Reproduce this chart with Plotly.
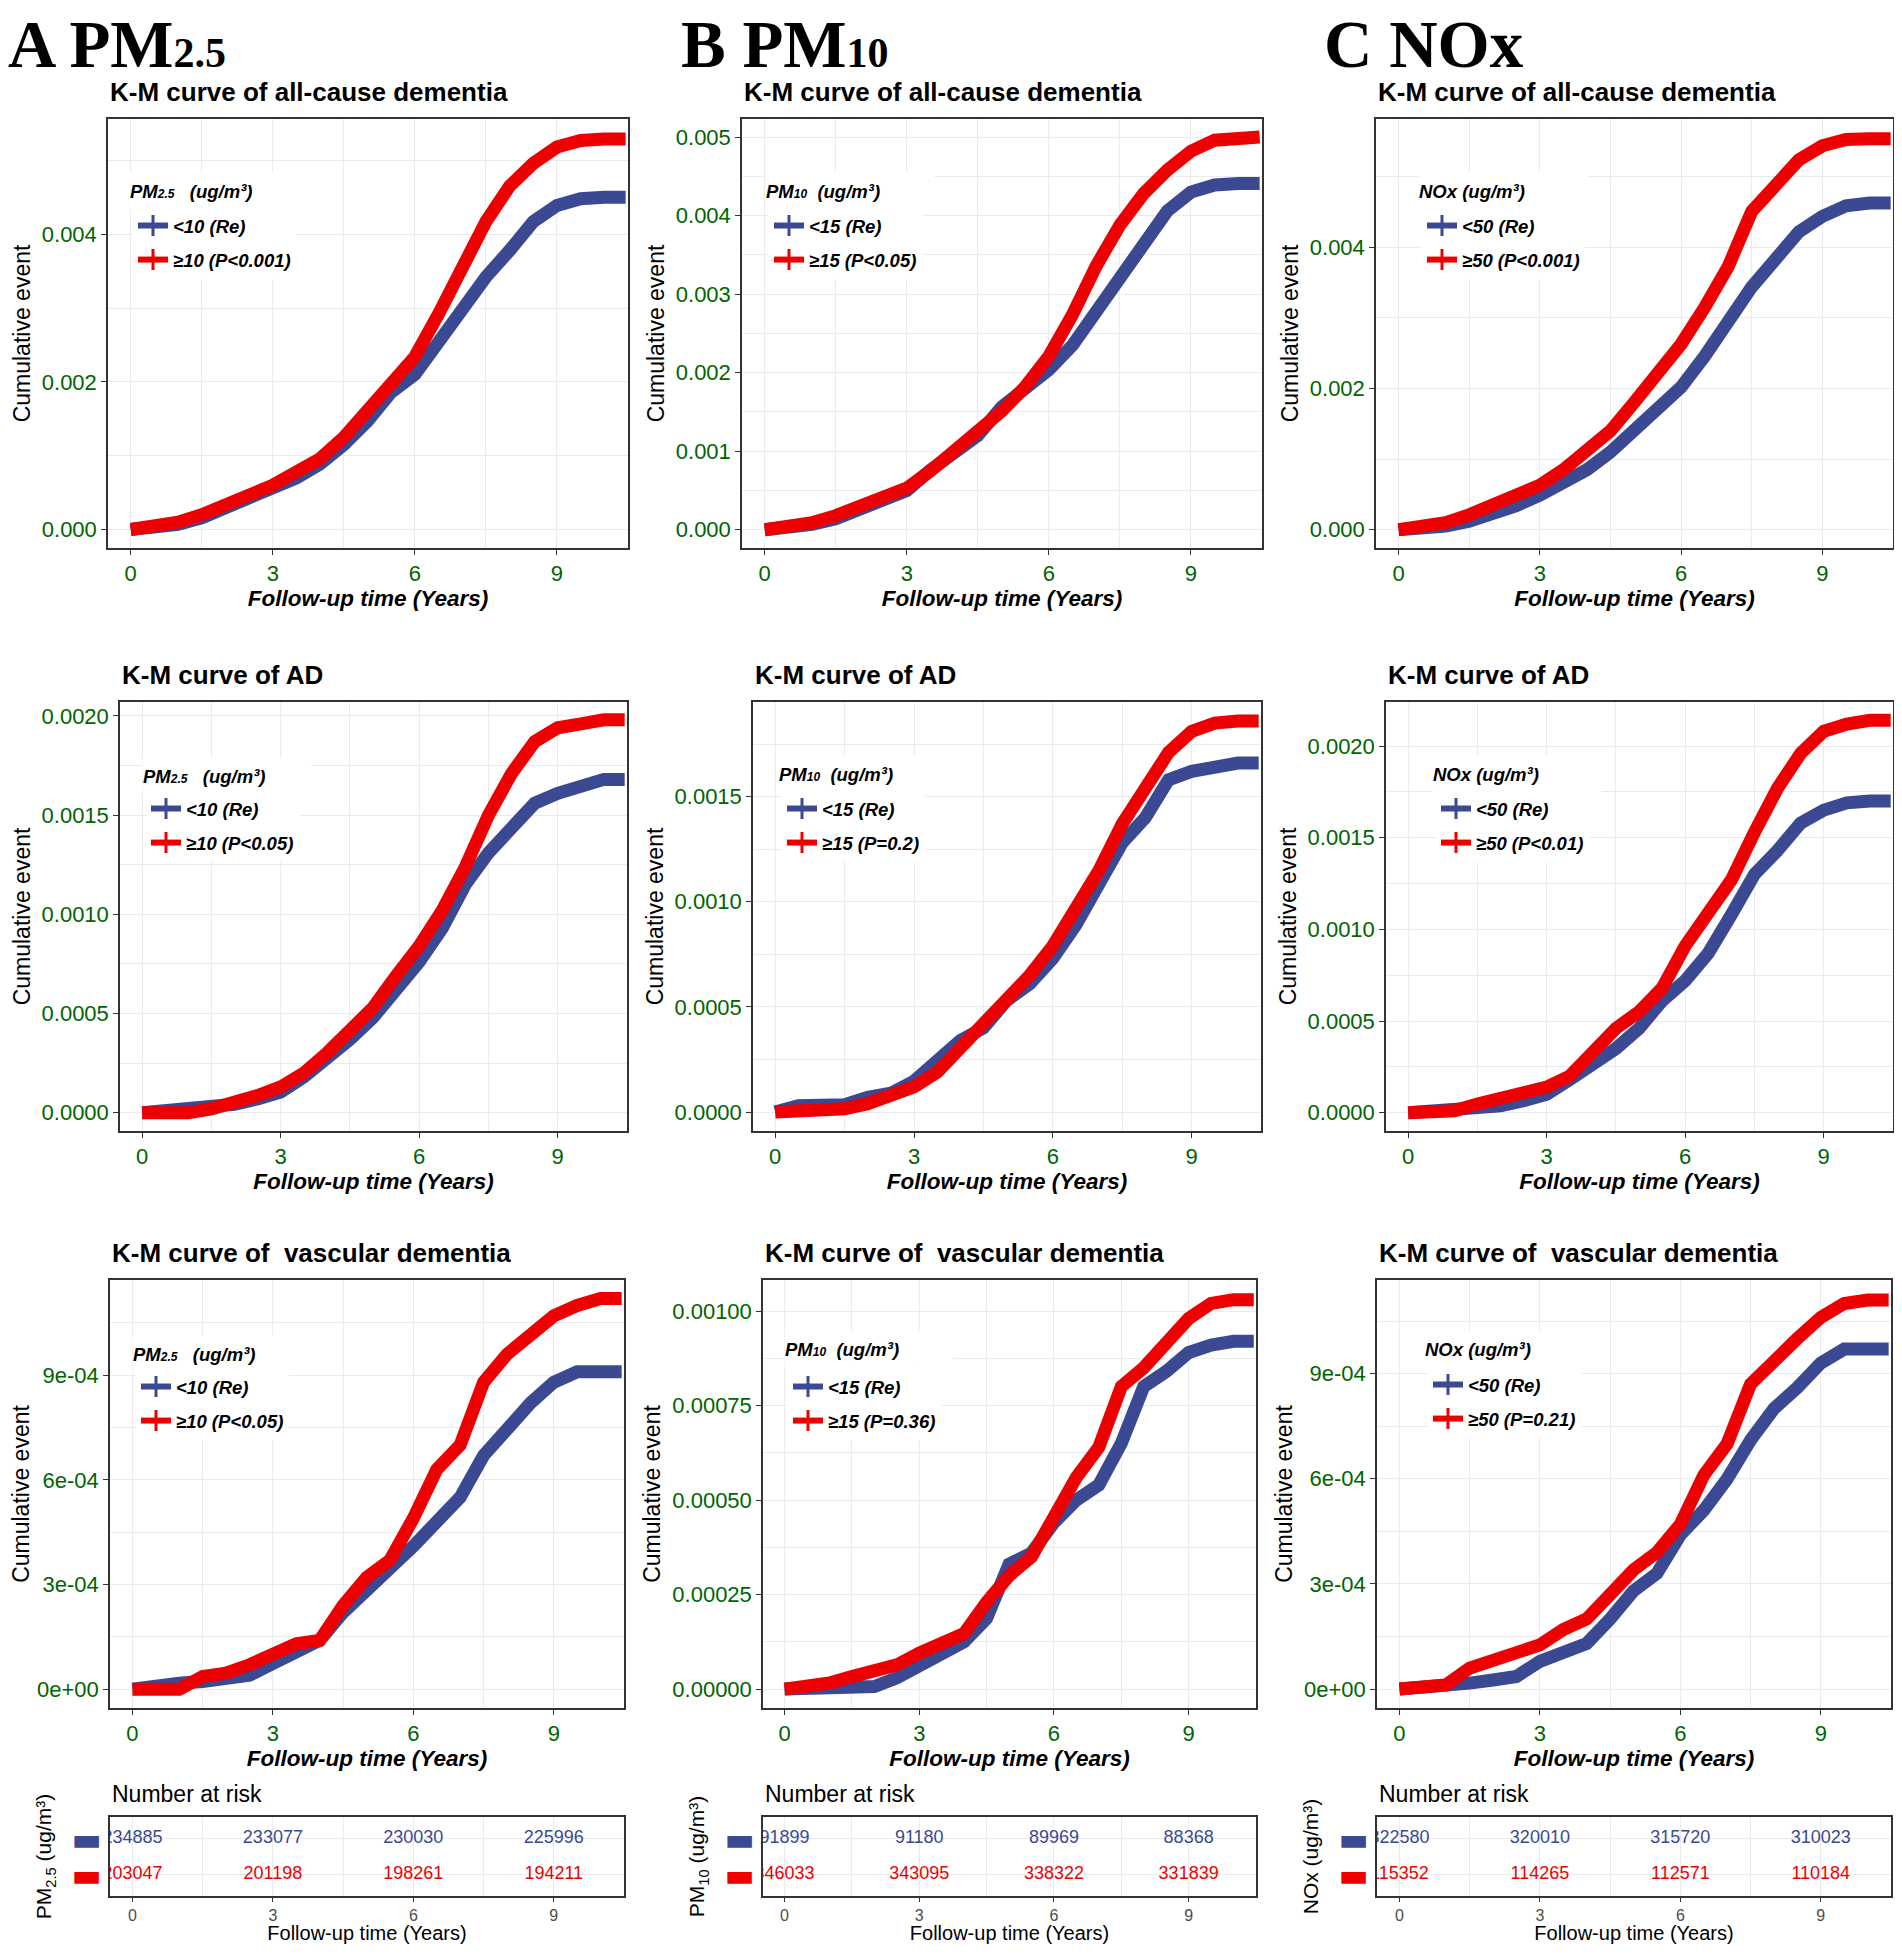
import plotly.graph_objects as go

# follow-up time grid (years)
t_years = [0, 0.5, 1, 1.5, 2, 2.5, 3, 3.5, 4, 4.5, 5, 5.5, 6, 6.5, 7, 7.5, 8, 8.5, 9, 9.5, 10, 10.45]

# cumulative event curves (low = reference group, high = exposed group)
pm25_all_low = [0, 0.00003, 0.00007, 0.00016, 0.00029, 0.0004, 0.00053, 0.0007, 0.00089, 0.00115, 0.00147,
                0.00186, 0.0021, 0.00253, 0.00301, 0.00342, 0.00378, 0.00417, 0.00439, 0.00448, 0.0045, 0.0045]
pm25_all_high = [0, 0.00004, 0.0001, 0.0002, 0.00033, 0.00046, 0.0006, 0.00078, 0.00096, 0.00125, 0.00161,
                 0.002, 0.00234, 0.00292, 0.00359, 0.00417, 0.00465, 0.00496, 0.00518, 0.00527, 0.00529, 0.00529]
pm10_all_low = [0, 0.00003, 0.00007, 0.00014, 0.00026, 0.00037, 0.0005, 0.00076, 0.00099, 0.0012, 0.00156,
                0.00178, 0.00204, 0.00235, 0.00278, 0.00322, 0.0036, 0.00406, 0.0043, 0.00439, 0.00441, 0.00441]
pm10_all_high = [0, 0.00004, 0.00009, 0.00018, 0.00029, 0.0004, 0.00053, 0.00075, 0.00099, 0.00125, 0.00151,
                 0.00182, 0.00221, 0.00274, 0.00336, 0.00388, 0.00428, 0.00458, 0.00482, 0.00496, 0.00499, 0.005]
nox_all_low = [0, 0.00002, 0.00005, 0.00012, 0.00022, 0.00034, 0.00049, 0.00068, 0.00085, 0.0011, 0.00141,
               0.00173, 0.00202, 0.00246, 0.00295, 0.00344, 0.00383, 0.00422, 0.00444, 0.00459, 0.00463, 0.00463]
nox_all_high = [0, 0.00005, 0.0001, 0.00021, 0.00034, 0.00048, 0.00063, 0.00085, 0.00112, 0.0014, 0.0018,
                0.00222, 0.00263, 0.00315, 0.00373, 0.00451, 0.0049, 0.00524, 0.00544, 0.00553, 0.00554, 0.00554]

pm25_ad_low = [0, 0.00001, 0.000017, 0.000026, 0.000043, 0.00007, 0.000104, 0.00018, 0.00027, 0.00037, 0.00048,
               0.00061, 0.00076, 0.00093, 0.00115, 0.00131, 0.00143, 0.00156, 0.00161, 0.00165, 0.00168, 0.00168]
pm25_ad_high = [0, 0, 0, 0.00002, 0.00005, 0.000087, 0.00013, 0.0002, 0.0003, 0.00041, 0.00053,
                0.00069, 0.00084, 0.00102, 0.00124, 0.0015, 0.00171, 0.00187, 0.00194, 0.00196, 0.00198, 0.00198]
pm10_ad_low = [0, 0.00003, 0.000033, 0.000035, 0.00007, 0.00009, 0.000147, 0.00024, 0.00034, 0.0004, 0.00053,
               0.00061, 0.00073, 0.00089, 0.00109, 0.00128, 0.0014, 0.00158, 0.00162, 0.00164, 0.00166, 0.00166]
pm10_ad_high = [0, 0.000005, 0.000008, 0.000016, 0.00004, 0.000074, 0.00012, 0.00019, 0.0003, 0.00042, 0.00052,
                0.00065, 0.00079, 0.00096, 0.00115, 0.00137, 0.00153, 0.00171, 0.00181, 0.00185, 0.00186, 0.00186]
nox_ad_low = [0, 0.000005, 0.00001, 0.00002, 0.000037, 0.000066, 0.0001, 0.00018, 0.00026, 0.00035, 0.00046,
              0.00061, 0.00072, 0.00087, 0.00108, 0.0013, 0.00143, 0.00158, 0.00165, 0.00169, 0.0017, 0.0017]
nox_ad_high = [0, 0.000005, 0.00001, 0.000047, 0.000075, 0.0001, 0.00014, 0.0002, 0.00033, 0.00046, 0.00055,
               0.00068, 0.00091, 0.0011, 0.00127, 0.00153, 0.00177, 0.00196, 0.00208, 0.00212, 0.00214, 0.00214]

pm25_vad_low = [0, 0.000012, 0.000017, 0.000022, 0.000027, 0.00004, 0.000074, 0.000107, 0.00014, 0.00022, 0.00028,
                0.00034, 0.00041, 0.00048, 0.00055, 0.00067, 0.00075, 0.00082, 0.00088, 0.00091, 0.00091, 0.00091]
pm25_vad_high = [0, 0, 0, 0.000036, 0.000046, 0.00007, 0.0001, 0.00013, 0.00014, 0.00024, 0.00032,
                 0.00037, 0.00049, 0.00063, 0.0007, 0.00088, 0.00096, 0.00102, 0.00107, 0.0011, 0.00112, 0.00112]
pm10_vad_low = [0, 0, 0, 0.000007, 0.000007, 0.00003, 0.000064, 0.0001, 0.000125, 0.000187, 0.00033,
                0.00036, 0.00044, 0.0005, 0.00054, 0.00065, 0.0008, 0.00084, 0.00089, 0.00091, 0.00092, 0.00092]
pm10_vad_high = [0, 0.000007, 0.000016, 0.000033, 0.000046, 0.000064, 0.000095, 0.00012, 0.000147, 0.00023, 0.0003,
                 0.00035, 0.00046, 0.00056, 0.00064, 0.0008, 0.00085, 0.00091, 0.00098, 0.00102, 0.00103, 0.00103]
nox_vad_low = [0, 0.000003, 0.000005, 0.000017, 0.000026, 0.000036, 0.000079, 0.000107, 0.00013, 0.0002, 0.00028,
               0.00033, 0.00044, 0.00051, 0.0006, 0.00071, 0.0008, 0.00086, 0.00093, 0.00097, 0.00097, 0.00097]
nox_vad_high = [0, 0.000008, 0.000012, 0.00006, 0.000079, 0.0001, 0.000126, 0.00017, 0.0002, 0.00027, 0.00034,
                0.00039, 0.00047, 0.00061, 0.0007, 0.00087, 0.00094, 0.001, 0.00106, 0.0011, 0.00111, 0.00111]

# number at risk
risk_times = [0, 3, 6, 9]
pm25_risk_low = [234885, 233077, 230030, 225996]
pm25_risk_high = [203047, 201198, 198261, 194211]
pm10_risk_low = [91899, 91180, 89969, 88368]
pm10_risk_high = [346033, 343095, 338322, 331839]
nox_risk_low = [322580, 320010, 315720, 310023]
nox_risk_high = [115352, 114265, 112571, 110184]

# legend labels
pm25_labels = ["<10 (Re)", "≥10 (P<0.001)", "≥10 (P<0.05)", "≥10 (P<0.05)"]
pm10_labels = ["<15 (Re)", "≥15 (P<0.05)", "≥15 (P=0.2)", "≥15 (P=0.36)"]
nox_labels = ["<50 (Re)", "≥50 (P<0.001)", "≥50 (P<0.01)", "≥50 (P=0.21)"]

# y ticks
yt_all_a = [0, 0.002, 0.004]
yt_all_a_txt = ["0.000", "0.002", "0.004"]
yt_all_b = [0, 0.001, 0.002, 0.003, 0.004, 0.005]
yt_all_b_txt = ["0.000", "0.001", "0.002", "0.003", "0.004", "0.005"]
yt_ad_a = [0, 0.0005, 0.001, 0.0015, 0.002]
yt_ad_a_txt = ["0.0000", "0.0005", "0.0010", "0.0015", "0.0020"]
yt_ad_b = [0, 0.0005, 0.001, 0.0015]
yt_ad_b_txt = ["0.0000", "0.0005", "0.0010", "0.0015"]
yt_vad_a = [0, 0.0003, 0.0006, 0.0009]
yt_vad_a_txt = ["0e+00", "3e-04", "6e-04", "9e-04"]
yt_vad_b = [0, 0.00025, 0.0005, 0.00075, 0.001]
yt_vad_b_txt = ["0.00000", "0.00025", "0.00050", "0.00075", "0.00100"]

BLUE = "#3B4992"
RED = "#EE0000"
GREEN = "#006400"
GRID = "#EBEBEB"
FONT = "Liberation Sans, Arial, sans-serif"

# page has an 8px body margin, so the figure is drawn 8px in
W, H, OFF = 1886, 1936, 8


def fx(p):
    return (p - OFF) / W


def fy(p):
    return 1 - (p - OFF) / H


TITLES = ["K-M curve of all-cause dementia", "K-M curve of AD", "K-M curve of  vascular dementia"]
LEG_TITLES = ["PM<span style='font-size:12px'>2.5</span>   (ug/m³)",
              "PM<span style='font-size:12px'>10</span>  (ug/m³)", "NOx (ug/m³)"]
TAB_TITLES = ["PM<sub>2.5</sub> (ug/m³)", "PM<sub>10</sub> (ug/m³)", "NOx (ug/m³)"]

# panels in row-major order: (low, high, labels, label index, yticks, yticktext, yrange)
panels = [
    (pm25_all_low, pm25_all_high, pm25_labels, 1, yt_all_a, yt_all_a_txt, [-0.00025, 0.00556]),
    (pm10_all_low, pm10_all_high, pm10_labels, 1, yt_all_b, yt_all_b_txt, [-0.000232, 0.00523]),
    (nox_all_low, nox_all_high, nox_labels, 1, yt_all_a, yt_all_a_txt, [-0.00026, 0.00582]),
    (pm25_ad_low, pm25_ad_high, pm25_labels, 2, yt_ad_a, yt_ad_a_txt, [-0.000092, 0.00207]),
    (pm10_ad_low, pm10_ad_high, pm10_labels, 2, yt_ad_b, yt_ad_b_txt, [-0.00009, 0.00195]),
    (nox_ad_low, nox_ad_high, nox_labels, 2, yt_ad_a, yt_ad_a_txt, [-0.0001, 0.00224]),
    (pm25_vad_low, pm25_vad_high, pm25_labels, 3, yt_vad_a, yt_vad_a_txt, [-0.000054, 0.001173]),
    (pm10_vad_low, pm10_vad_high, pm10_labels, 3, yt_vad_b, yt_vad_b_txt, [-0.00005, 0.001082]),
    (nox_vad_low, nox_vad_high, nox_labels, 3, yt_vad_a, yt_vad_a_txt, [-0.000054, 0.001167]),
]
risks = [(pm25_risk_low, pm25_risk_high), (pm10_risk_low, pm10_risk_high), (nox_risk_low, nox_risk_high)]

# panel boxes in page pixels
col_left = [[108, 742, 1376], [120, 753, 1386], [110, 763, 1377]]
col_right = [[628, 1262, 1893], [627, 1261, 1893], [624, 1256, 1891]]
row_top = [119, 702, 1280]
row_bot = [548, 1131, 1708]
tab_top, tab_bot = 1817, 1896
# legend boxes: left edge, title centre, first entry centre
leg_pos = [[(133, 191, 223), (769, 191, 223), (1422, 191, 223)],
           [(146, 776, 806), (782, 774, 806), (1436, 774, 806)],
           [(136, 1354, 1384), (788, 1349, 1384), (1428, 1349, 1382)]]

fig = go.Figure()
layout = {}
annotations = []

for i, (low, high, labels, li, yt, ytt, yr) in enumerate(panels):
    r, c = divmod(i, 3)
    k = i + 1
    xs = "x" if k == 1 else f"x{k}"
    ys = "y" if k == 1 else f"y{k}"
    leg = "legend" if k == 1 else f"legend{k}"
    for vals, col in [(low, BLUE), (high, RED)]:
        fig.add_trace(go.Scatter(x=t_years, y=vals, mode="lines", line=dict(color=col, width=13),
                                 showlegend=False, xaxis=xs, yaxis=ys, hoverinfo="skip"))
    for j, (name, col) in enumerate([(labels[0], BLUE), (labels[li], RED)]):
        fig.add_trace(go.Scatter(x=[None], y=[None], mode="lines+markers", name=name, legend=leg,
                                 legendgroup=f"g{k}_{j}",
                                 line=dict(color=col, width=6),
                                 marker=dict(symbol="cross-thin", size=15, line=dict(color=col, width=3)),
                                 xaxis=xs, yaxis=ys))
    x0, x1 = col_left[r][c], col_right[r][c]
    y0, y1 = row_top[r], row_bot[r]
    layout[f"xaxis{k}"] = dict(
        domain=[fx(x0), fx(x1)], anchor=ys, range=[-0.48, 10.5],
        tickvals=[0, 3, 6, 9], ticks="outside", ticklen=5, tickcolor="#333333",
        tickfont=dict(family=FONT, size=22, color=GREEN),
        showline=True, mirror=True, linecolor="#333333", linewidth=1.5,
        showgrid=True, gridcolor=GRID, gridwidth=1.3, zeroline=False,
        minor=dict(tick0=0, dtick=1.5, showgrid=True, gridcolor=GRID, gridwidth=0.8, ticklen=0),
        title=dict(text="Follow-up time (Years)", standoff=1,
                   font=dict(family=FONT, size=22.5, color="black", weight="bold", style="italic")),
        automargin=False,
    )
    layout[f"yaxis{k}"] = dict(
        domain=[fy(y1), fy(y0)], anchor=xs, range=yr,
        tickvals=yt, ticktext=ytt, ticks="outside", ticklen=5, tickcolor="#333333",
        tickfont=dict(family=FONT, size=22, color=GREEN),
        showline=True, mirror=True, linecolor="#333333", linewidth=1.5,
        showgrid=True, gridcolor=GRID, gridwidth=1.3, zeroline=False,
        minor=dict(tick0=0, dtick=(yt[1] - yt[0]) / 2, showgrid=True, gridcolor=GRID, gridwidth=0.8, ticklen=0),
        title=dict(text="Cumulative event", standoff=5, font=dict(family=FONT, size=23, color="black")),
        automargin=False,
    )
    lx, lty, liy = leg_pos[r][c]
    layout[leg] = dict(
        x=fx(lx), y=fy(liy - 16), xanchor="left", yanchor="top", xref="paper", yref="paper",
        bgcolor="white", borderwidth=0, itemwidth=30, tracegroupgap=7,
        font=dict(family=FONT, size=18.5, color="black", weight="bold", style="italic"),
    )
    # legend heading, drawn on a white box that joins the legend box
    annotations.append(dict(text=LEG_TITLES[c], xref="paper", yref="paper", x=fx(lx - 4), y=fy(lty),
                            xanchor="left", yanchor="middle", showarrow=False, align="left",
                            width=168, height=36, bgcolor="white", borderpad=0,
                            font=dict(family=FONT, size=18.5, color="black", weight="bold", style="italic")))
    annotations.append(dict(text=TITLES[r], xref="paper", yref="paper", x=fx(x0), y=fy(y0 - 10),
                            xanchor="left", yanchor="bottom", showarrow=False,
                            font=dict(family=FONT, size=26, color="black", weight="bold")))

# number-at-risk tables
for c, (rlow, rhigh) in enumerate(risks):
    k = 10 + c
    xs, ys = f"x{k}", f"y{k}"
    fig.add_trace(go.Scatter(x=risk_times, y=[2] * 4, mode="text", text=[str(v) for v in rlow],
                             textfont=dict(family="Liberation Sans Narrow, " + FONT, size=18, color=BLUE),
                             cliponaxis=True, showlegend=False, xaxis=xs, yaxis=ys, hoverinfo="skip"))
    fig.add_trace(go.Scatter(x=risk_times, y=[1] * 4, mode="text", text=[str(v) for v in rhigh],
                             textfont=dict(family="Liberation Sans Narrow, " + FONT, size=18, color=RED),
                             cliponaxis=True, showlegend=False, xaxis=xs, yaxis=ys, hoverinfo="skip"))
    x0, x1 = col_left[2][c], col_right[2][c]
    layout[f"xaxis{k}"] = dict(
        domain=[fx(x0), fx(x1)], anchor=ys, range=[-0.48, 10.5],
        tickvals=[0, 3, 6, 9], ticks="outside", ticklen=4, tickcolor="#333333",
        tickfont=dict(family=FONT, size=16, color="#4D4D4D"),
        showline=True, mirror=True, linecolor="#333333", linewidth=1.5,
        showgrid=True, gridcolor=GRID, gridwidth=1.3, zeroline=False,
        minor=dict(tick0=0, dtick=1.5, showgrid=True, gridcolor=GRID, gridwidth=0.8, ticklen=0),
        title=dict(text="Follow-up time (Years)", standoff=4, font=dict(family=FONT, size=20, color="black")),
        automargin=False,
    )
    layout[f"yaxis{k}"] = dict(
        domain=[fy(tab_bot), fy(tab_top)], anchor=xs, range=[0.4, 2.6],
        tickvals=[1, 2],
        ticktext=[f'<span style="color:{RED}">▬</span>', f'<span style="color:{BLUE}">▬</span>'],
        ticks="", tickfont=dict(family="DejaVu Sans", size=32, color="black"),
        showline=True, mirror=True, linecolor="#333333", linewidth=1.5,
        showgrid=True, gridcolor=GRID, gridwidth=1.3, zeroline=False,
        title=dict(text=TAB_TITLES[c], standoff=14, font=dict(family=FONT, size=21, color="black")),
        automargin=False,
    )
    annotations.append(dict(text="Number at risk", xref="paper", yref="paper", x=fx(x0), y=fy(tab_top - 8),
                            xanchor="left", yanchor="bottom", showarrow=False,
                            font=dict(family=FONT, size=23, color="black")))

# panel letters
for text, xp in [("A PM<span style='font-size:42px'>2.5</span>", 6),
                 ("B PM<span style='font-size:42px'>10</span>", 679),
                 ("C NOx", 1322)]:
    annotations.append(dict(text=text, xref="paper", yref="paper", x=fx(xp), y=fy(44),
                            xanchor="left", yanchor="middle", showarrow=False,
                            font=dict(family="Liberation Serif, Times New Roman, serif", size=67,
                                      color="black", weight="bold")))

fig.update_layout(
    width=W, height=H, margin=dict(l=0, r=0, t=0, b=0),
    paper_bgcolor="white", plot_bgcolor="white",
    annotations=annotations, hovermode=False,
    **layout,
)

fig.write_html("out.html")
